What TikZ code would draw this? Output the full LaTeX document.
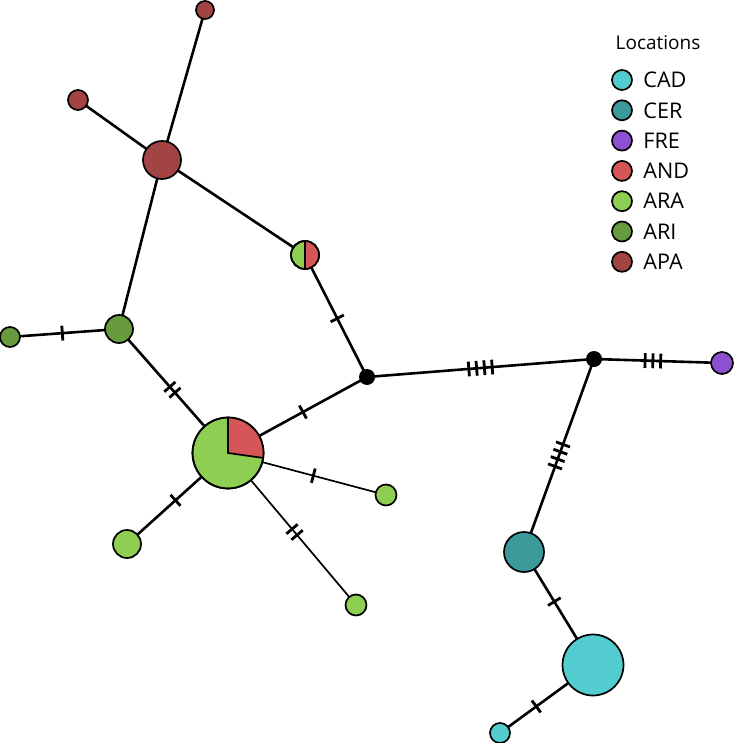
\documentclass[tikz,border=0pt]{standalone}
\usepackage{fontspec}
\setmainfont{Open Sans}
\usetikzlibrary{positioning,backgrounds,decorations.markings}
\definecolor{cadc}{HTML}{52CCCF}
\definecolor{cerc}{HTML}{3C9A9B}
\definecolor{frec}{HTML}{8E50D2}
\definecolor{andc}{HTML}{D55656}
\definecolor{arac}{HTML}{8ECE52}
\definecolor{aric}{HTML}{679B3E}
\definecolor{apac}{HTML}{A34444}
\begin{document}
\begin{tikzpicture}[x=0.5pt,y=-0.5pt,
  hap/.style={circle,draw,line width=0.85pt,inner sep=0pt,outer sep=0pt,minimum size=#1},
  junc/.style={circle,fill=black,inner sep=0pt,outer sep=0pt,minimum size=8pt},
  link/.style={line width=1.3pt},
  thinlink/.style={line width=0.85pt},
  mut/.style 2 args={postaction={decorate,decoration={markings,mark=at position #2 with {\foreach \k in {1,...,#1} \draw[line width=1.4pt] ({(\k-(#1+1)/2)*3.9pt},-3.7pt) -- ++(0,7.4pt);}}}},
  legtext/.style={inner sep=0pt,font=\fontsize{10.8}{12}\selectfont}]
  \useasboundingbox (0,0) rectangle (733,743);

  % haplotypes
  \node[hap=9pt,fill=apac] (apa1) at (205,10) {};
  \node[hap=10pt,fill=apac] (apa2) at (78,100) {};
  \node[hap=19pt,fill=apac] (apa3) at (162,160) {};
  \node[hap=14pt,fill=arac] (hp) at (305,255) {};
  \node[hap=14pt,fill=aric] (ari1) at (119,329) {};
  \node[hap=10pt,fill=aric] (ari2) at (10,337) {};
  \node[junc] (j1) at (367,377) {};
  \node[junc] (j2) at (594,359) {};
  \node[hap=11pt,fill=frec] (fre) at (722,363) {};
  \node[hap=35.5pt,fill=arac] (pie) at (228,453) {};
  \node[hap=10.5pt,fill=arac] (ara1) at (386,495) {};
  \node[hap=14pt,fill=arac] (ara2) at (127,544) {};
  \node[hap=10.5pt,fill=arac] (ara3) at (356,605) {};
  \node[hap=20pt,fill=cerc] (cer) at (524,552) {};
  \node[hap=30.5pt,fill=cadc] (cad1) at (593,665) {};
  \node[hap=10pt,fill=cadc] (cad2) at (500,733) {};

  % pie parts
  \fill[andc] (pie.center) -- (pie.90) arc[start angle=90,end angle=-8,radius=17.75pt] -- cycle;
  \draw[line width=0.85pt] (pie.90) -- (pie.center) -- (pie.-8);
  \draw[line width=0.85pt] (pie.center) circle[radius=17.75pt];
  \fill[andc] (hp.90) arc[start angle=90,end angle=-90,radius=7pt] -- cycle;
  \draw[line width=0.85pt] (hp.90) -- (hp.-90);
  \draw[line width=0.85pt] (hp.center) circle[radius=7pt];

  % links
  \begin{scope}[on background layer]
    \draw[link] (apa3.center) -- (apa1.center);
    \draw[link] (apa3.center) -- (apa2.center);
    \draw[link] (apa3.center) -- (ari1.center);
    \draw[link] (apa3.center) -- (hp.center);
    \draw[link,mut={1}{0.52}] (hp.center) -- (j1.center);
    \draw[link,mut={1}{0.48}] (ari2.center) -- (ari1.center);
    \draw[link,mut={2}{0.49}] (ari1.center) -- (pie.center);
    \draw[link,mut={1}{0.54}] (pie.center) -- (j1.center);
    \draw[link,mut={4}{0.50}] (j1.center) -- (j2.center);
    \draw[link,mut={3}{0.46}] (j2.center) -- (fre.center);
    \draw[link,mut={4}{0.50}] (j2.center) -- (cer.center);
    \draw[link,mut={1}{0.44}] (cer.center) -- (cad1.center);
    \draw[link,mut={1}{0.61}] (cad1.center) -- (cad2.center);
    \draw[link,mut={1}{0.52}] (pie.center) -- (ara2.center);
    \draw[thinlink,mut={1}{0.54}] (pie.center) -- (ara1.center);
    \draw[thinlink,mut={2}{0.52}] (pie.center) -- (ara3.center);
  \end{scope}

  % legend
  \node[inner sep=0pt,font=\fontsize{9.5}{11}\selectfont] (legtitle) at (658,43) {Locations};
  \foreach \loc/\col [count=\i] in {CAD/cadc,CER/cerc,FRE/frec,AND/andc,ARA/arac,ARI/aric,APA/apac}{
    \node[hap=10pt,fill=\col] (leg\loc) at (622,{80+30.3*(\i-1)}) {};
    \node[legtext,right=5.5pt of leg\loc] (lab\loc) {\loc};
  }
\end{tikzpicture}
\end{document}
